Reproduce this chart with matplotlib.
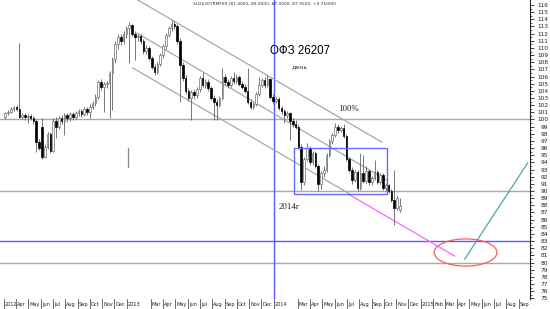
import datetime as dt
import matplotlib
matplotlib.use("Agg")
import matplotlib.pyplot as plt
import matplotlib.dates as mdates
import matplotlib.transforms as mtransforms
from matplotlib.patches import Ellipse, Rectangle

# ---------------- data (weekly OHLC, first week starting 2012-03-05) ----------------
opens = [100.3, 100.9, 101.1, 101.5, 101.7, 101.4, 100.4, 100.6, 100.3, 100.5,
         100.2, 99.8, 96.8, 98.9, 94.8, 96.2, 98.0, 95.6, 99.8, 99.0,
         100.2, 99.8, 100.6, 100.2, 100.8, 100.4, 100.9, 101.2, 100.8, 101.5,
         101.0, 101.8, 102.3, 103.2, 105.2, 104.5, 104.9, 105.1, 106.5, 108.5,
         110.5, 111.5, 111.0, 112.0, 112.8, 113.2, 112.0, 111.5, 111.6, 111.0,
         109.6, 110.0, 108.6, 107.4, 106.6, 107.8, 109.0, 110.3, 111.8, 112.8,
         113.4, 113.0, 111.0, 107.6, 105.8, 104.0, 103.0, 103.8, 103.4, 104.2,
         105.8, 104.8, 105.3, 104.4, 103.0, 102.4, 102.0, 103.0, 106.0, 105.2,
         104.8, 105.8, 105.4, 106.0, 105.0, 104.6, 104.0, 102.4, 101.8, 102.2,
         103.6, 104.8, 105.5, 104.8, 105.6, 103.2, 102.6, 102.9, 101.6, 101.2,
         100.6, 100.9, 99.8, 99.4, 99.0, 96.2, 91.2, 94.5, 96.0, 94.0,
         95.3, 93.5, 91.0, 92.5, 93.0, 95.0, 97.0, 97.8, 99.0, 98.5,
         98.8, 97.7, 94.5, 93.0, 91.5, 92.6, 90.4, 92.5, 91.4, 92.8,
         91.2, 91.8, 92.6, 91.3, 92.2, 90.4, 90.8, 90.0, 88.8, 87.6,
         87.4]
highs = [101.1, 101.3, 101.7, 101.9, 102.0, 110.7, 100.9, 100.9, 100.7, 100.8,
         100.5, 100.1, 97.2, 100.2, 96.6, 98.3, 98.2, 100.2, 100.3, 100.5,
         100.6, 100.9, 100.9, 101.1, 101.1, 101.2, 101.5, 101.4, 101.8, 101.7,
         102.1, 102.6, 103.5, 105.5, 105.6, 105.2, 105.4, 106.8, 108.8, 110.9,
         111.9, 112.0, 112.4, 113.1, 113.6, 113.4, 112.4, 112.0, 111.9, 111.3,
         110.4, 110.3, 108.9, 107.7, 108.1, 109.3, 110.6, 112.1, 113.1, 113.9,
         113.8, 113.3, 111.4, 108.0, 106.2, 104.4, 104.1, 104.2, 104.5, 106.1,
         106.6, 105.6, 105.6, 104.7, 103.4, 102.8, 103.3, 107.2, 106.4, 105.6,
         106.1, 106.6, 106.3, 106.2, 105.4, 104.9, 107.2, 102.8, 102.5, 103.9,
         105.9, 105.8, 105.9, 106.2, 105.8, 103.5, 103.2, 103.1, 101.9, 101.5,
         101.2, 101.1, 100.2, 99.9, 99.3, 96.5, 94.8, 96.7, 96.3, 95.6,
         95.6, 93.8, 92.8, 93.5, 95.3, 97.3, 98.1, 99.5, 99.3, 99.1,
         99.4, 98.0, 94.8, 93.3, 92.9, 92.9, 95.3, 95.0, 93.5, 93.1,
         92.1, 94.3, 92.9, 92.5, 92.5, 91.1, 91.0, 90.3, 92.9, 89.3,
         89.0]
lows = [100.1, 100.6, 100.9, 101.2, 101.2, 100.2, 100.0, 99.9, 99.5, 99.9,
        99.4, 95.4, 95.7, 94.5, 94.6, 95.9, 95.3, 95.4, 97.4, 98.6,
        99.3, 97.8, 99.6, 99.8, 99.9, 100.0, 100.5, 100.4, 100.5, 100.6,
        100.2, 101.4, 101.9, 102.9, 104.1, 101.0, 104.4, 100.2, 101.3, 107.9,
        109.8, 110.4, 110.6, 111.4, 107.9, 111.6, 108.3, 111.0, 110.6, 109.2,
        109.2, 108.3, 107.0, 106.2, 106.3, 107.5, 108.6, 109.9, 111.5, 112.4,
        112.6, 110.6, 102.4, 105.4, 103.6, 102.6, 99.9, 102.8, 103.0, 103.9,
        104.5, 104.4, 104.0, 102.7, 99.9, 99.9, 101.7, 102.7, 104.8, 104.4,
        104.5, 105.0, 105.1, 104.7, 104.2, 103.7, 102.1, 101.5, 101.5, 101.9,
        103.3, 104.5, 104.4, 104.5, 102.9, 102.2, 102.3, 101.3, 100.8, 99.5,
        100.2, 97.1, 99.0, 98.7, 95.9, 90.1, 90.8, 94.2, 93.6, 93.7,
        93.2, 90.0, 90.3, 92.0, 92.7, 94.7, 96.6, 97.5, 98.1, 98.2,
        97.4, 94.2, 92.7, 91.0, 91.2, 90.0, 90.1, 91.1, 91.1, 90.9,
        90.9, 91.5, 91.0, 91.0, 90.1, 90.0, 89.7, 88.5, 85.2, 87.3,
        87.0]
closes = [100.9, 101.1, 101.5, 101.7, 101.4, 100.4, 100.6, 100.3, 100.5, 100.2,
          99.8, 96.8, 96.0, 94.8, 96.2, 98.0, 95.6, 99.8, 99.0, 100.2,
          99.8, 100.6, 100.2, 100.8, 100.4, 100.9, 101.2, 100.8, 101.5, 101.0,
          101.8, 102.3, 103.2, 105.2, 104.5, 104.9, 105.1, 106.5, 108.5, 110.5,
          111.5, 111.0, 112.0, 112.8, 113.2, 112.0, 111.5, 111.6, 111.0, 109.6,
          110.0, 108.6, 107.4, 106.6, 107.8, 109.0, 110.3, 111.8, 112.8, 113.4,
          113.0, 111.0, 107.6, 105.8, 104.0, 103.0, 103.8, 103.4, 104.2, 105.8,
          104.8, 105.3, 104.4, 103.0, 102.4, 102.0, 103.0, 106.0, 105.2, 104.8,
          105.8, 105.4, 106.0, 105.0, 104.6, 104.0, 102.4, 101.8, 102.2, 103.6,
          104.8, 105.5, 104.8, 105.6, 103.2, 102.6, 102.9, 101.6, 101.2, 100.6,
          100.9, 99.8, 99.4, 99.0, 96.2, 91.2, 94.5, 96.0, 94.0, 95.3,
          93.5, 91.0, 92.5, 93.0, 95.0, 97.0, 97.8, 99.0, 98.5, 98.8,
          97.7, 94.5, 93.0, 91.5, 92.6, 90.4, 92.5, 91.4, 92.8, 91.2,
          91.8, 92.6, 91.3, 92.2, 90.4, 90.8, 90.0, 88.8, 87.6, 89.0,
          87.95]

first_week = dt.date(2012, 3, 5)

month_ticks = ["2012-03-01", "2012-04-01", "2012-05-01", "2012-06-01", "2012-07-01",
               "2012-08-01", "2012-09-01", "2012-10-01", "2012-11-01", "2012-12-01",
               "2013-01-01", "2013-03-01", "2013-04-01", "2013-05-01", "2013-06-01",
               "2013-07-01", "2013-08-01", "2013-09-01", "2013-10-01", "2013-11-01",
               "2013-12-01", "2014-01-01", "2014-03-01", "2014-04-01", "2014-05-01",
               "2014-06-01", "2014-07-01", "2014-08-01", "2014-09-01", "2014-10-01",
               "2014-11-01", "2014-12-01", "2015-01-01", "2015-02-01", "2015-03-01",
               "2015-04-01", "2015-05-01", "2015-06-01", "2015-07-01", "2015-08-01",
               "2015-09-01"]
month_labels = ["2012", "Apr", "May", "Jun", "Jul", "Aug", "Sep", "Oct", "Nov", "Dec",
                "2013", "Mar", "Apr", "May", "Jun", "Jul", "Aug", "Sep", "Oct", "Nov",
                "Dec", "2014", "Mar", "Apr", "May", "Jun", "Jul", "Aug", "Sep", "Oct",
                "Nov", "Dec", "2015", "Feb", "Mar", "Apr", "May", "Jun", "Jul", "Aug",
                "Sep"]

# annotation levels / drawn objects (dates, prices)
h_gray_levels = [100, 90, 80]
h_blue_level = 83
v_blue_date = "2014-01-01"
channel_upper = (["2013-01-28", "2014-09-26"], [116.7, 96.84])
channel_mid = (["2013-01-26", "2014-10-08"], [112.08, 91.52])
channel_low = (["2013-01-16", "2014-07-13"], [107.19, 89.43])
magenta_line = (["2014-07-09", "2015-03-26"], [89.43, 80.9])
teal_line = (["2015-04-20", "2015-09-23"], [80.48, 93.9])
marker_line = (["2013-01-04", "2013-01-04"], [96.0, 93.34])
box_dates = ["2014-02-20", "2014-10-08"]
box_prices = [89.57, 96.0]
ellipse_center = ("2015-04-22", 81.4)
ellipse_size_days, ellipse_size_price = 156, 3.8

title_text = "SU26207RMFS9 (87.4000, 89.0000, 87.0000, 87.9500, +0.75000)"


def d2n(s):
    return mdates.date2num(dt.datetime.strptime(s, "%Y-%m-%d"))


# ---------------- figure ----------------
fig = plt.figure(figsize=(5.5, 3.09), dpi=100)
ax = fig.add_axes([0, 10 / 309, 530 / 550, 299 / 309])
ax.set_xlim(d2n("2012-02-21"), d2n("2015-09-29"))
ax.set_ylim(74.9, 116.7)

dates = [mdates.date2num(first_week + dt.timedelta(weeks=i)) for i in range(len(closes))]

# reference lines
for lv in h_gray_levels:
    ax.axhline(lv, color="#a8a8a8", lw=1.0, zorder=1)
ax.axhline(h_blue_level, color="#5a5aff", lw=1.0, zorder=1)
ax.axvline(d2n(v_blue_date), color="#5a5aff", lw=1.0, zorder=1)

for seg, col in [(channel_upper, "#a8a8a8"), (channel_mid, "#a8a8a8"),
                 (channel_low, "#a8a8a8"), (magenta_line, "#ff66ff"),
                 (teal_line, "#4aa8a8"), (marker_line, "#888888")]:
    ax.plot([d2n(s) for s in seg[0]], seg[1], color=col, lw=0.9, zorder=2)

ax.add_patch(Rectangle((d2n(box_dates[0]), box_prices[0]),
                       d2n(box_dates[1]) - d2n(box_dates[0]),
                       box_prices[1] - box_prices[0],
                       fill=False, edgecolor="#6a6aff", lw=1.0, zorder=4))
ax.add_patch(Ellipse((d2n(ellipse_center[0]), ellipse_center[1]),
                     ellipse_size_days, ellipse_size_price,
                     fill=False, edgecolor="#ff5a5a", lw=0.9, zorder=4))

# candles
for x, o, h, l, c in zip(dates, opens, highs, lows, closes):
    ax.vlines(x, l, h, color="#606060", lw=0.6, zorder=3)
    up = c >= o
    bot = min(o, c)
    ht = max(abs(c - o), 0.12)
    ax.bar(x, ht, bottom=bot, width=4.0, color="white" if up else "black",
           edgecolor="#707070" if up else "black", lw=0.5, zorder=3.5)

# texts
ax.text(d2n("2013-06-14"), 116.1, title_text, fontsize=3.2, color="#333344",
        ha="left", va="center", family="DejaVu Sans")
ax.text(d2n("2013-12-22"), 109.6, "ОФЗ 26207", fontsize=8.3, color="black",
        ha="left", va="center", family="Liberation Sans", zorder=5)
ax.text(d2n("2014-02-14"), 107.3, "день", fontsize=4.5, color="#333333",
        ha="left", va="center", family="DejaVu Sans")
ax.text(d2n("2014-06-09"), 101.45, "100%", fontsize=6.3, color="#222222",
        ha="left", va="center", family="Liberation Serif")
ax.text(d2n("2014-01-13"), 87.75, "2014г", fontsize=6.3, color="#222222",
        ha="left", va="center", family="Liberation Serif")

# spines / axes
for s in ["left", "top", "bottom"]:
    ax.spines[s].set_visible(False)
ax.spines["right"].set_linewidth(0.8)
ax.spines["right"].set_color("#222222")
ax.yaxis.tick_right()
ax.set_yticks(range(75, 117))
ax.set_yticks([v + 0.5 for v in range(75, 116)], minor=True)
ax.tick_params(axis="y", which="major", length=3, width=0.6, labelsize=4.2,
               pad=10, colors="#222222")
ax.tick_params(axis="y", which="minor", length=1.5, width=0.5, colors="#222222")
for lab in ax.get_yticklabels():
    lab.set_horizontalalignment("right")
ax.set_xticks([])

blend = mtransforms.blended_transform_factory(ax.transData, ax.transAxes)
off = mtransforms.ScaledTranslation(1.2 / 100, 0, fig.dpi_scale_trans)
for ds, lab in zip(month_ticks, month_labels):
    x = d2n(ds)
    ax.plot([x, x], [0.0, -0.033], transform=blend, clip_on=False,
            color="#333333", lw=0.5)
    ax.text(x, -0.017, lab, transform=blend + off, ha="left", va="center",
            fontsize=3.6, color="#222222", clip_on=False)

fig.savefig("out.png", dpi=100, facecolor="white")
